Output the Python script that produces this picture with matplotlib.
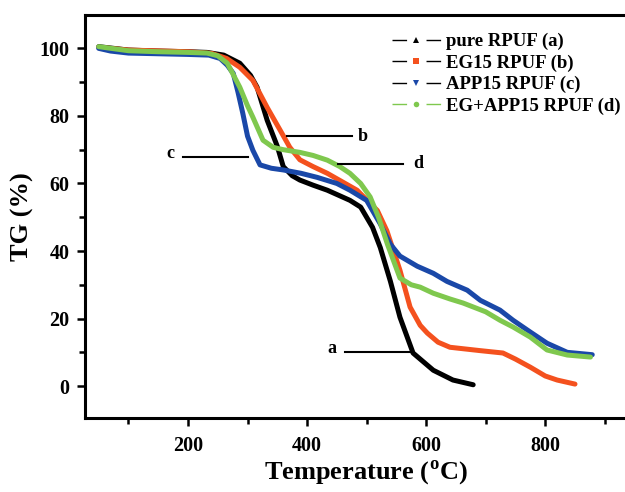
import numpy as np
import matplotlib
matplotlib.use("Agg")
import matplotlib.pyplot as plt
from matplotlib.lines import Line2D
from matplotlib.legend_handler import HandlerTuple

plt.rcParams['font.family'] = ['Liberation Serif', 'DejaVu Serif']
plt.rcParams['font.weight'] = 'bold'
plt.rcParams['mathtext.fontset'] = 'custom'
plt.rcParams['mathtext.rm'] = 'Liberation Serif:bold'

# TG curves (temperature in C, mass in %)
temp_a = [50, 100, 150, 200, 232, 260, 287, 305, 316, 333, 350, 360, 375, 388, 410, 434,
          472, 490, 510, 523, 540, 556, 578, 612, 645, 679]
tg_a = [100.5, 99.5, 99.2, 99.0, 98.8, 98.0, 95.6, 92.0, 88.5, 78.7, 71.0, 65.0, 62.3, 61.0,
        59.5, 58.0, 55.0, 53.0, 47.0, 41.0, 31.0, 20.4, 9.8, 4.7, 1.8, 0.4]

temp_b = [50, 100, 200, 240, 265, 287, 309, 333, 355, 371, 388, 410, 434, 484, 518, 534,
          556, 573, 590, 602, 620, 640, 691, 729, 750, 775, 800, 820, 850]
tg_b = [100.3, 99.5, 99.0, 98.5, 97.0, 94.4, 90.5, 82.5, 75.7, 70.7, 67.0, 65.0, 63.0, 58.0,
        52.0, 46.0, 34.3, 23.4, 18.0, 15.7, 13.0, 11.5, 10.5, 9.8, 8.0, 5.6, 3.0, 1.8, 0.6]

temp_c = [50, 70, 100, 150, 200, 235, 254, 266, 276, 284, 292, 300, 309, 321, 340, 360,
          390, 417, 450, 472, 500, 523, 540, 556, 585, 612, 635, 669, 691, 724, 746, 775,
          803, 837, 879]
tg_c = [100.0, 99.2, 98.6, 98.4, 98.2, 98.0, 97.0, 95.0, 92.6, 87.0, 80.8, 74.0, 69.8, 65.5,
        64.5, 64.0, 63.0, 61.8, 60.0, 58.0, 55.0, 48.0, 42.0, 38.5, 35.5, 33.4, 31.0, 28.4,
        25.4, 22.5, 19.5, 16.0, 12.7, 10.0, 9.3]

temp_d = [50, 100, 150, 200, 232, 250, 266, 287, 300, 309, 326, 343, 360, 388, 410, 434,
          455, 472, 490, 506, 520, 535, 556, 575, 590, 612, 640, 662, 700, 724, 746, 775,
          803, 837, 876]
tg_d = [100.5, 99.3, 99.0, 98.8, 98.6, 97.8, 95.6, 88.5, 83.0, 79.6, 72.8, 70.7, 70.0, 69.2,
        68.3, 66.9, 65.0, 63.0, 60.0, 56.0, 50.0, 42.0, 32.0, 30.0, 29.3, 27.5, 25.8, 24.6,
        22.0, 19.5, 17.5, 14.5, 10.7, 9.2, 8.6]

series = [
    ('pure RPUF (a)', temp_a, tg_a, '#000000', '^', '#000000'),
    ('EG15 RPUF (b)', temp_b, tg_b, '#f4511e', 's', '#000000'),
    ('APP15 RPUF (c)', temp_c, tg_c, '#1a48a8', 'v', '#000000'),
    ('EG+APP15 RPUF (d)', temp_d, tg_d, '#7fc84e', 'o', '#7fc84e'),
]

# curve labels: (text, text x, text y, line x0, line x1, line y)
callouts = [
    ('a', 442, 11, 464, 573, 10),
    ('b', 493, 74, 366, 475, 74),
    ('c', 170, 69, 192, 301, 67.8),
    ('d', 587, 66, 452, 561, 65.7),
]

fig = plt.figure(figsize=(6.25, 4.92), dpi=100)
ax = fig.add_axes([0.136, 0.150, 0.864, 0.819])

handles = []
for name, xs, ys, col, mk, lcol in series:
    ax.plot(xs, ys, color=col, lw=3.6, solid_capstyle='round', solid_joinstyle='round')
    # legend handle: line with a gap in the middle, small marker in the gap
    seg = Line2D([], [], color=lcol, lw=1.0, linestyle=(0, (10.5, 14, 10.5, 100)))
    dot = Line2D([], [], color=col, lw=0, marker=mk, markersize=4, markeredgewidth=0)
    handles.append((seg, dot))

for lab, tx, ty, x0, x1, ly in callouts:
    ax.plot([x0, x1], [ly, ly], color='black', lw=1.5)
    ax.text(tx, ty, lab, fontsize=13, fontweight='bold', ha='center', va='center')

ax.set_xlim(27, 934)
ax.set_ylim(-9.5, 109.8)
ax.set_xticks([200, 400, 600, 800])
ax.set_xticks(np.arange(100, 1000, 100), minor=True)
ax.set_yticks(np.arange(0, 101, 20))
ax.set_yticks(np.arange(10, 101, 20), minor=True)
ax.tick_params(which='major', direction='out', length=6, width=1.8, labelsize=14.5, pad=5)
ax.tick_params(axis='x', which='major', pad=7)
ax.tick_params(which='minor', direction='out', length=4, width=1.8)
for s in ['left', 'bottom', 'top']:
    ax.spines[s].set_linewidth(2.2)
ax.spines['right'].set_visible(False)

ax.set_xlabel(r'Temperature ($^{\mathrm{o}}$C)', fontsize=19, fontweight='bold')
ax.set_ylabel('TG (%)', fontsize=19, fontweight='bold')
ax.xaxis.set_label_coords(0.52, -0.10)
ax.yaxis.set_label_coords(-0.094, 0.5)

leg = ax.legend(handles, [s[0] for s in series], loc='upper left',
                handler_map={tuple: HandlerTuple(ndivide=1)},
                bbox_to_anchor=(392 / 625, 1 - 33 / 492), bbox_transform=fig.transFigure,
                frameon=False, fontsize=13.5, handlelength=2.6, handletextpad=0.3,
                labelspacing=0.22, borderaxespad=0, borderpad=0, numpoints=1)

fig.savefig('out.png', dpi=100)
